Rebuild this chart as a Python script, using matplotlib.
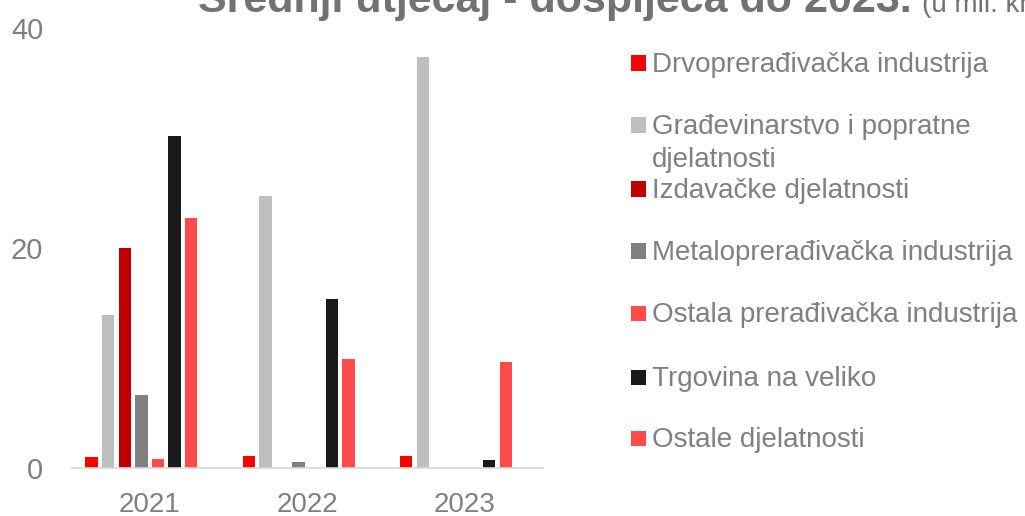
import numpy as np
import matplotlib
matplotlib.use('Agg')
import matplotlib.pyplot as plt
from matplotlib.patches import Rectangle

plt.rcParams['font.family'] = ['Liberation Sans', 'DejaVu Sans']

years = ['2021', '2022', '2023']
series_names = ['Drvoprerađivačka industrija',
                'Građevinarstvo i popratne\ndjelatnosti',
                'Izdavačke djelatnosti',
                'Metaloprerađivačka industrija',
                'Ostala prerađivačka industrija',
                'Trgovina na veliko',
                'Ostale djelatnosti']
drvo = [1.0, 1.05, 1.05]
gradevinarstvo = [13.9, 24.7, 37.4]
izdavacke = [20.0, 0, 0]
metalo = [6.6, 0.55, 0]
ostala_prer = [0.85, 0, 0]
trgovina = [30.2, 15.4, 0.75]
ostale = [22.75, 9.9, 9.65]
colors = ['#ff0000', '#bfbfbf', '#c00000', '#808080', '#ff4b4b', '#1a1a1a', '#ff4b4b']

values = [drvo, gradevinarstvo, izdavacke, metalo, ostala_prer, trgovina, ostale]

W, H = 1025, 516
fig = plt.figure(figsize=(W / 100, H / 100), dpi=100)
ax = fig.add_axes([71 / W, 1 - 468 / H, (543 - 71) / W, (468 - 28) / H])

x = np.arange(len(years))
pitch = 0.1055
width = 0.0795
for i, (vals, c) in enumerate(zip(values, colors)):
    ax.bar(x + (i - 3.5) * pitch, vals, width=width, color=c, zorder=2)

ax.set_xlim(-0.5, 2.5)
ax.set_ylim(0, 40)
ax.set_yticks([0, 20, 40])
ax.set_xticks(x)
ax.set_xticklabels(years)
for s in ['top', 'right', 'left']:
    ax.spines[s].set_visible(False)
ax.spines['bottom'].set_color('#d9d9d9')
ax.spines['bottom'].set_linewidth(1.2)
ax.tick_params(axis='y', length=0, pad=20, labelsize=21, labelcolor='#808080')
ax.tick_params(axis='x', length=0, pad=17, labelsize=20, labelcolor='#808080')

# title (cut off at the top, as in the source)
fig.text(198 / W, 1 - 12 / H, 'Srednji utjecaj - dospijeća do 2023.', fontsize=31,
         fontweight='bold', color='#767171', va='baseline', ha='left')
fig.text(922 / W, 1 - 12 / H, '(u mil. kn)', fontsize=20, color='#767171',
         va='baseline', ha='left')

# legend drawn by hand, one text per line
row_y = [63, 125, 189, 251, 313, 377, 438]
for name, c, yy in zip(series_names, colors, row_y):
    fig.add_artist(Rectangle((631 / W, 1 - (yy + 7.5) / H), 15 / W, 15 / H,
                             transform=fig.transFigure, color=c, lw=0))
    for k, line in enumerate(name.split('\n')):
        fig.text(652 / W, 1 - (yy + 9 + 33 * k) / H, line, fontsize=20,
                 color='#808080', va='baseline', ha='left')

fig.savefig('out.png', dpi=100)
